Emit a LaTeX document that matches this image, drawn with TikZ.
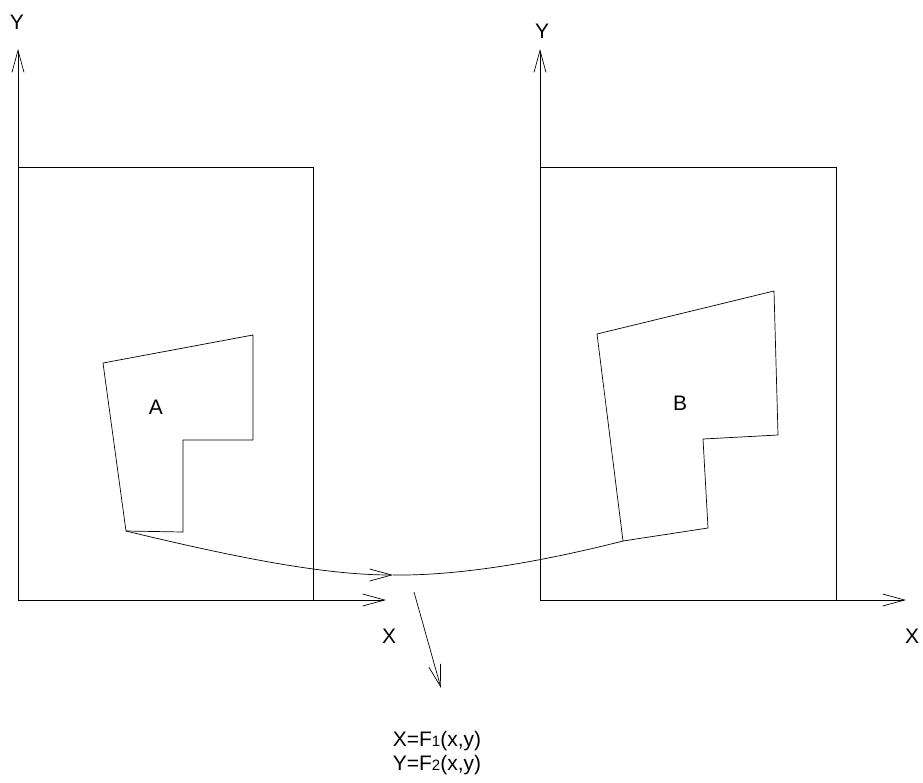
\documentclass[tikz,border=0pt]{standalone}
\usepackage{fontspec}
\setmainfont{Liberation Sans}
\usetikzlibrary{arrows.meta}
\tikzset{
  ax/.style={-{Straight Barb[length=22pt,width=12pt]}, line width=0.7pt},
  edge/.style={line width=0.7pt},
  lbl/.style={font=\fontsize{21}{24}\selectfont, inner sep=0pt, align=center},
}
\begin{document}
\begin{tikzpicture}[x=1pt,y=-1pt]
\useasboundingbox (0,0) rectangle (923,782);
% left frame
\coordinate (o1) at (18,600);
\coordinate (ty1) at (18,49);
\coordinate (tx1) at (386,600);
\draw[ax] (o1) -- (ty1);
\draw[ax] (o1) -- (tx1);
\node[lbl] (ly1) at (17,22) {Y};
\node[lbl] (lx1) at (389,636) {X};
\draw[edge] (18,167) rectangle (313,600);
% right frame
\coordinate (o2) at (540,600);
\coordinate (ty2) at (540,49);
\coordinate (tx2) at (906,600);
\draw[ax] (o2) -- (ty2);
\draw[ax] (o2) -- (tx2);
\node[lbl] (ly2) at (542,31) {Y};
\node[lbl] (lx2) at (912,636) {X};
\draw[edge] (540,167) rectangle (836,600);
% region A
\coordinate (a1) at (103,363);
\coordinate (a2) at (253,335);
\coordinate (a3) at (253,440);
\coordinate (a4) at (183,440);
\coordinate (a5) at (183,532);
\coordinate (a6) at (126,531);
\draw[edge] (a1) -- (a2) -- (a3) -- (a4) -- (a5) -- (a6) -- cycle;
\node[lbl] (na) at (156,407) {A};
% region B
\coordinate (b1) at (597,334);
\coordinate (b2) at (774,291);
\coordinate (b3) at (778,435);
\coordinate (b4) at (703,439);
\coordinate (b5) at (708,528);
\coordinate (b6) at (623,541);
\draw[edge] (b1) -- (b2) -- (b3) -- (b4) -- (b5) -- (b6) -- cycle;
\node[lbl] (nb) at (680,403) {B};
% mapping
\coordinate (m) at (393,575);
\draw[ax] (a6) .. controls (250,561) and (330,575) .. (m);
\draw[edge] (m) .. controls (470,576) and (560,557) .. (b6);
\coordinate (s) at (414,592);
\coordinate (t) at (441,688);
\draw[ax] (s) -- (t);
\node[lbl] (fn) at (437,753) {X=F{\fontsize{15}{15}\selectfont 1}(x,y)\\Y=F{\fontsize{15}{15}\selectfont 2}(x,y)};
\end{tikzpicture}
\end{document}
